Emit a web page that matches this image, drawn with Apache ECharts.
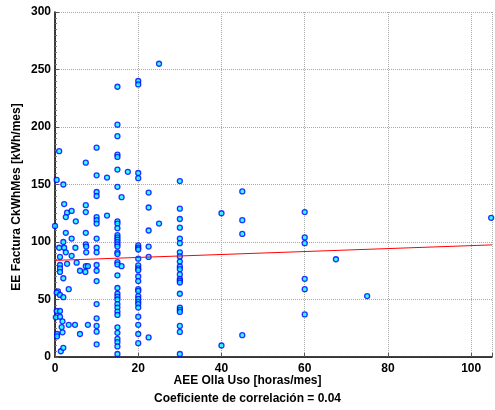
<!DOCTYPE html>
<html>
<head>
<meta charset="utf-8">
<script src="https://cdn.jsdelivr.net/npm/echarts@6/dist/echarts.min.js"></script>
<style>html,body{margin:0;padding:0;background:#fff}#c{width:495px;height:410px}</style>
</head>
<body>
<div id="c"></div>
<script>
// Scatter points: [AEE Olla Uso (horas/mes), EE Factura (kWh/mes)]
const puntos = [
  [0.4,154],[0,114],[0.7,57],[0.4,40],[0.2,34.5],[0.5,20],[0.5,18],[0.4,56],
  [1,179],[1,95],[1.2,87],[1.2,80],[1.2,77],[1.2,74],[1.2,54],[1.2,40],[1.2,35],[1.4,5],[1.6,26],
  [2,150],[2.2,133],[2,100],[2.2,95],[2,68.5],[2,52],[1.8,31],[1.8,21.5],[2,8],
  [2.9,125.5],[2.6,121.7],[2.6,108],[2.6,91],[2.9,81],
  [3.3,59],[3.3,28],
  [4,127],[4,103],[4,88],
  [5,118],[4.9,95],[5.2,82],[4.8,28],
  [6,75],[6,20],
  [7.4,169],[7.4,132],[7.4,126],[7.4,108],[7.4,98],[7.5,96],[7.5,91],[7.4,79],[7.9,79],[7.3,74],[7.9,28],
  [10,182],[10,158],[10,143.5],[10,140],[10,121.7],[10,119],[10,116],[10,103],[10,95],[10,91],[10,80],[10,75],[10,66],[10,46],[10,33.6],[10,27],[10,22],[10,11],
  [12.5,156],[12.5,123],
  [15,235],[15,202],[15,192],[15,176],[15,174],[15,163],[15,148],[15,118],[15,116],[15,112],[15,106],[15,104],[15,102],[15,100],[15,98],[15,96],[15,91],[15,89.5],[15,82.5],[15,80.5],[15,71],[15,60],[15,55],[15,52.5],[15,50],[15,46],[15,43],[15,39.5],[15,36.6],[15,25.8],[15,21],[15,15.7],[15,13],[15,9.2],[15,2.6],
  [16,139],[16,79],[17.5,161],
  [20,240],[20,237],[20,160],[20,155.5],[20,97],[20,95],[20,93.5],[20,85.5],[20,79.6],[20,77],[20,75.5],[20,70],[20,66],[20,59],[20,57.5],[20,53],[20,50.5],[20,48],[20,46],[20,43],[20,35],[20,28],[20,20],[20,12],
  [22.5,143],[22.5,130],[22.5,110],[22.5,96],[22.5,87],[22.5,17],
  [25,255],[25,116],
  [30,153],[30,129],[30,120],[30,112.5],[30,103],[30,99],[30,91],[30,87.5],[30,83],[30,78.7],[30,76.4],[30,71.8],[30,68],[30,66.5],[30,64.8],[30,55],[30,43],[30,41],[30,39.2],[30,27],[30,21.8],[30,2.6],
  [40,125],[40,10],
  [45,144],[45,119],[45,107],[45,19],
  [60,126],[60,104],[60,99],[60,68],[60,59],[60,37],
  [67.5,85],[75,53],[104.8,121]
];
// Regression line endpoints
const lineaX = [0, 105];
const lineaY = [84, 97.5];
const xTicks = [0, 20, 40, 60, 80, 100];
const yTicks = [0, 50, 100, 150, 200, 250, 300];

const font = '"Liberation Sans", Arial, sans-serif';
const chart = echarts.init(document.getElementById('c'), null, {renderer: 'canvas'});
chart.setOption({
  animation: false,
  grid: {left: 55, right: 0, top: 12, bottom: 53, containLabel: false},
  xAxis: {
    type: 'value', min: 0, max: 105, interval: 20,
    axisLine: {show: true, onZero: false, lineStyle: {color: '#000', width: 1.5}},
    axisTick: {show: true, inside: true, length: 4, lineStyle: {color: '#555'}},
    axisLabel: {color: '#000', fontFamily: font, fontWeight: 'bold', fontSize: 12, margin: 6,
      formatter: v => xTicks.includes(v) ? String(v) : ''},
    splitLine: {show: true, lineStyle: {color: '#aaa', type: 'dotted', width: 1}}
  },
  yAxis: {
    type: 'value', min: 0, max: 300, interval: 50,
    axisLine: {show: true, onZero: false, lineStyle: {color: '#000', width: 1.5}},
    axisTick: {show: true, inside: true, length: 4, lineStyle: {color: '#555'}},
    minorTick: {show: true, splitNumber: 10, length: 2, lineStyle: {color: '#777'}},
    axisLabel: {color: '#000', fontFamily: font, fontWeight: 'bold', fontSize: 12, margin: 4,
      formatter: v => yTicks.includes(v) ? String(v) : ''},
    splitLine: {show: true, lineStyle: {color: '#aaa', type: 'dotted', width: 1}}
  },
  series: [
    {
      type: 'scatter', data: puntos, symbol: 'circle', symbolSize: 5, clip: false,
      itemStyle: {color: '#00ffff', borderColor: '#0000ff', borderWidth: 1.3},
      z: 3
    },
    {
      type: 'line', data: lineaX.map((x, i) => [x, lineaY[i]]), symbol: 'none',
      lineStyle: {color: '#ff0000', width: 1}, z: 4
    }
  ],
  graphic: [
    {type: 'text', left: 'center', top: 375, style: {text: 'AEE Olla Uso [horas/mes]', font: 'bold 12px ' + font, fill: '#000', textAlign: 'center'}, x: 0},
    {type: 'text', left: 'center', top: 393, style: {text: 'Coeficiente de correlación = 0.04', font: 'bold 12px ' + font, fill: '#000'}},
    {type: 'text', x: 17, y: 197, rotation: Math.PI / 2,
      style: {text: 'EE Factura CkWhMes [kWh/mes]', font: 'bold 12px ' + font, fill: '#000', align: 'center', verticalAlign: 'middle'}}
  ]
});
</script>
</body>
</html>
